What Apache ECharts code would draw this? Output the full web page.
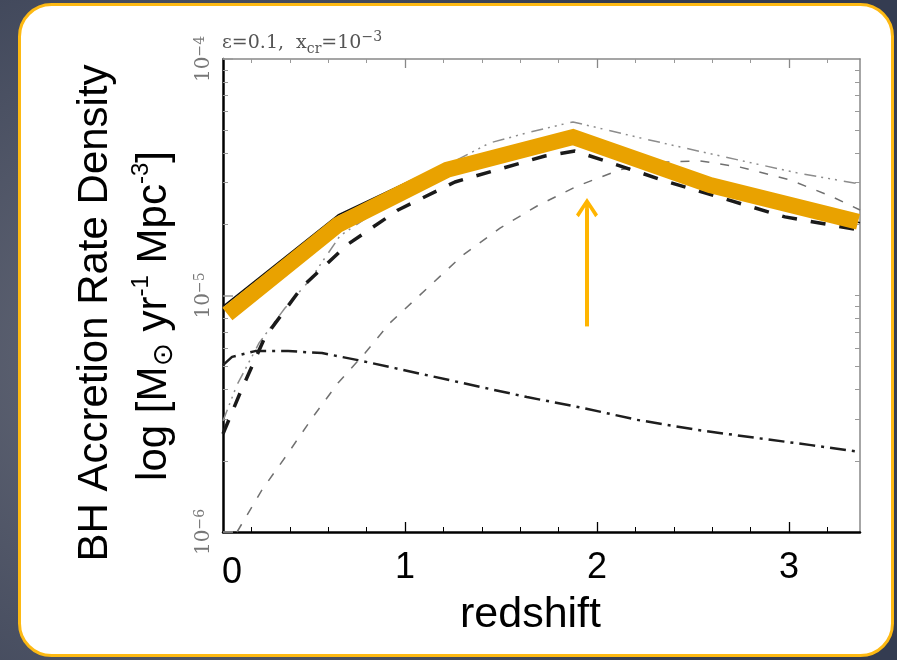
<!DOCTYPE html>
<html><head><meta charset="utf-8">
<script src="https://cdn.jsdelivr.net/npm/echarts@6/dist/echarts.min.js"></script>
<style>html,body{margin:0;padding:0;background:#3b4257;}#c{width:897px;height:660px;}</style>
</head><body><div id="c"></div>
<script>
// ---------------- data (redshift z, accretion rate density in Msun/yr/Mpc^3) ----------------
// highlighted total (thick orange)
const hlZ = [0.075, 0.651, 1.219, 1.875, 2.589, 3.36];
const hlV = [8.36e-6, 1.99e-5, 3.40e-5, 4.68e-5, 2.93e-5, 2.05e-5];
// thin solid black total
const totZ = [0.052, 0.651, 1.219, 1.875, 2.589, 3.37];
const totV = [9.0e-6, 2.19e-5, 3.62e-5, 4.68e-5, 2.93e-5, 2.03e-5];
// thick long-dashed black
const dashZ = [0.052, 0.141, 0.271, 0.464, 0.698, 0.964, 1.26, 1.729, 1.885, 2.042, 2.354, 2.667, 2.979, 3.37];
const dashV = [2.6e-6, 3.87e-6, 6.68e-6, 1.086e-5, 1.637e-5, 2.30e-5, 3.02e-5, 3.89e-5, 4.08e-5, 3.71e-5, 3.05e-5, 2.56e-5, 2.15e-5, 1.89e-5];
// thin grey dash-dot-dot
const ddZ = [0.052, 0.125, 0.240, 0.375, 0.505, 0.661, 0.974, 1.219, 1.443, 1.651, 1.875, 2.25, 2.667, 3.042, 3.37];
const ddV = [2.95e-6, 4.19e-6, 6.30e-6, 8.85e-6, 1.164e-5, 1.786e-5, 2.66e-5, 3.56e-5, 4.42e-5, 4.91e-5, 5.42e-5, 4.59e-5, 3.85e-5, 3.30e-5, 2.96e-5];
// thin grey dashed
const gdZ = [0.125, 0.255, 0.385, 0.516, 0.651, 0.792, 0.922, 1.302, 1.495, 1.688, 1.896, 2.12, 2.328, 2.536, 2.745, 3.005, 3.214, 3.37];
const gdV = [1.0e-6, 1.507e-6, 2.12e-6, 3.03e-6, 4.27e-6, 5.71e-6, 7.66e-6, 1.483e-5, 1.928e-5, 2.39e-5, 2.90e-5, 3.40e-5, 3.66e-5, 3.71e-5, 3.49e-5, 3.08e-5, 2.64e-5, 2.30e-5];
// black dash-dot
const dcZ = [0.052, 0.099, 0.219, 0.391, 0.568, 0.755, 0.948, 1.297, 1.635, 1.932, 2.208, 2.526, 2.844, 3.115, 3.37];
const dcV = [5.08e-6, 5.50e-6, 5.82e-6, 5.82e-6, 5.71e-6, 5.33e-6, 4.93e-6, 4.27e-6, 3.72e-6, 3.34e-6, 2.98e-6, 2.70e-6, 2.49e-6, 2.33e-6, 2.18e-6];
// arrow annotation
const arrowZ = 1.948, arrowFrom = 7.4e-6, arrowTo = 2.32e-5;

// axes
const XMIN = 0.052, XMAX = 3.37;
const xMajorTicks = [1, 2, 3];
const xMinorTicks = [0.2, 0.4, 0.6, 0.8, 1.2, 1.4, 1.6, 1.8, 2.2, 2.4, 2.6, 2.8, 3.2];
const xZeroLabel = '0';
const YMIN = 1e-6, YMAX = 1e-4;
const yMajorTicks = [1e-6, 1e-5, 1e-4];
const yTickText = ['{b|10}{s|−6}', '{b|10}{s|−5}', '{b|10}{s|−4}'];
const yMinorTicks = [2e-6, 3e-6, 4e-6, 5e-6, 6e-6, 7e-6, 8e-6, 9e-6, 2e-5, 3e-5, 4e-5, 5e-5, 6e-5, 7e-5, 8e-5, 9e-5];
const yRightTicks = yMinorTicks.concat([1e-5]);
const yTitle1 = 'BH Accretion Rate Density';
const yTitle2 = '{t|log [M}{o|⊙}{t| yr}{u|-1}{t| Mpc}{u|-3}{t|]}';
const xTitle = 'redshift';
const plotTitle = '{a|ε=0.1,  x}{b|cr}{a|=10}{c|−3}';

// ---------------- chart ----------------
const SANS = '"Liberation Sans", Arial, Helvetica, sans-serif';
const SERIF = '"DejaVu Serif", "Liberation Serif", serif';
const pair = (xs, ys) => xs.map((x, i) => [x, ys[i]]);
const ARROW = 'path://M12,0 L24,18 L21,21 L14,10 L14,24 L10,24 L10,10 L3,21 L0,18 Z';

const chart = echarts.init(document.getElementById('c'), null, {renderer: 'canvas', width: 897, height: 660});

const xBase = {type: 'value', min: XMIN, max: XMAX, splitLine: {show: false}, axisLabel: {show: false},
  axisTick: {show: false}, axisLine: {show: false}};
const yLin = {type: 'value', min: Math.log10(YMIN), max: Math.log10(YMAX), splitLine: {show: false},
  axisLabel: {show: false}, axisLine: {show: false}};

function line(name, xs, ys, style, z, extra) {
  return Object.assign({type: 'line', name, data: pair(xs, ys), xAxisIndex: 0, yAxisIndex: 0,
    symbol: 'none', showSymbol: false, silent: true, z, lineStyle: style}, extra || {});
}

const baseGraphic = [
  {id: 'bg', type: 'rect', z: -100, silent: true, shape: {x: 0, y: 0, width: 897, height: 660},
    style: {fill: {type: 'radial', x: 0.2, y: 0.55, r: 0.85,
      colorStops: [{offset: 0, color: '#676b79'}, {offset: 1, color: '#343c51'}]}}},
  {id: 'card', type: 'rect', z: -90, silent: true, shape: {x: 19.5, y: 4.5, width: 873, height: 651, r: 32},
    style: {fill: '#ffffff', stroke: '#FDB913', lineWidth: 3}},
  {id: 'yt1', type: 'text', z: 10, x: 95, y: 313, rotation: Math.PI / 2, silent: true,
    style: {text: yTitle1, font: '42px ' + SANS, fill: '#000', align: 'center', verticalAlign: 'middle'}},
  {id: 'yt2', type: 'text', z: 10, x: 154, y: 316, rotation: Math.PI / 2, silent: true,
    style: {text: yTitle2, fill: '#000', align: 'center', verticalAlign: 'middle',
      rich: {
        t: {fontSize: 42, fontFamily: SANS, lineHeight: 50, fill: '#000'},
        o: {fontSize: 28, fontFamily: '"DejaVu Sans", sans-serif', lineHeight: 33, verticalAlign: 'bottom', fill: '#000'},
        u: {fontSize: 24, fontFamily: SANS, lineHeight: 12, verticalAlign: 'top', fill: '#000'}
      }}},
  {id: 'x0', type: 'text', z: 10, x: 232, y: 573, silent: true,
    style: {text: xZeroLabel, font: '36px ' + SANS, fill: '#000', align: 'center', verticalAlign: 'middle'}}
];

const option = {
  animation: false,
  graphic: baseGraphic,
  title: {
    text: plotTitle, left: 222, top: 30, padding: 0,
    textStyle: {fontWeight: 'normal', fontSize: 19, fontFamily: SERIF, color: '#555', rich: {
      a: {fontSize: 19, fontFamily: SERIF, fontWeight: 'normal', color: '#555', lineHeight: 26},
      b: {fontSize: 14, fontFamily: SERIF, fontWeight: 'normal', color: '#555', lineHeight: 10, verticalAlign: 'bottom'},
      c: {fontSize: 14, fontFamily: SERIF, fontWeight: 'normal', color: '#555', lineHeight: 12, verticalAlign: 'top'}
    }}
  },
  grid: {left: 223, top: 59, width: 637, height: 473, containLabel: false},
  xAxis: [
    Object.assign({}, xBase, {position: 'bottom',
      axisLine: {show: true, onZero: false, lineStyle: {color: '#000', width: 2.5}},
      axisTick: {show: true, inside: true, length: 10, customValues: xMajorTicks, lineStyle: {color: '#000', width: 1.3}},
      axisLabel: {show: true, customValues: xMajorTicks, fontSize: 36, fontFamily: SANS, color: '#000', margin: 18},
      name: xTitle, nameLocation: 'middle', nameGap: 62,
      nameTextStyle: {fontSize: 43, fontFamily: SANS, color: '#000', padding: [0, 22, 0, 0]}}),
    Object.assign({}, xBase, {position: 'bottom',
      axisTick: {show: true, inside: true, length: 5, customValues: xMinorTicks, lineStyle: {color: '#000', width: 1}}}),
    Object.assign({}, xBase, {position: 'top',
      axisLine: {show: true, onZero: false, lineStyle: {color: '#888', width: 1.5}},
      axisTick: {show: true, inside: true, length: 9, customValues: xMajorTicks, lineStyle: {color: '#888', width: 1.3}}}),
    Object.assign({}, xBase, {position: 'top',
      axisTick: {show: true, inside: true, length: 4, customValues: xMinorTicks, lineStyle: {color: '#999', width: 1}}})
  ],
  yAxis: [
    {type: 'log', logBase: 10, min: YMIN, max: YMAX, position: 'left', splitLine: {show: false},
      axisLine: {show: true, onZero: false, lineStyle: {color: '#000', width: 2.5}},
      axisTick: {show: true, inside: true, length: 10, lineStyle: {color: '#999', width: 1.5}},
      axisLabel: {show: false}},
    Object.assign({}, yLin, {position: 'left',
      axisTick: {show: true, inside: true, length: 5, customValues: yMinorTicks.map(v => Math.log10(v)), lineStyle: {color: '#999', width: 1}}}),
    Object.assign({}, yLin, {position: 'right',
      axisLine: {show: true, onZero: false, lineStyle: {color: '#888', width: 1.5}},
      axisTick: {show: true, inside: true, length: 5, customValues: yRightTicks.map(v => Math.log10(v)), lineStyle: {color: '#999', width: 1}}})
  ],
  series: [
    line('grey dashed', gdZ, gdV, {color: '#707070', width: 1.5, type: [9, 11]}, 2),
    line('dash-dot', dcZ, dcV, {color: '#1e1e1e', width: 2.5, type: [16, 6, 3, 6]}, 3),
    line('dash-dot-dot', ddZ, ddV, {color: '#8c8c8c', width: 1.5, type: [12, 5, 2, 5, 2, 5, 2, 7]}, 4),
    line('long dashed', dashZ, dashV, {color: '#1a1a1a', width: 3.5, type: [15, 14]}, 5),
    line('total', totZ, totV, {color: '#111', width: 1.5}, 6),
    line('highlight', hlZ, hlV, {color: '#E9A200', width: 16, cap: 'butt', join: 'miter'}, 8, {
      clip: false,
      markLine: {silent: true, animation: false, symbol: ['none', ARROW], symbolSize: [22, 22],
        label: {show: false}, emphasis: {disabled: true},
        lineStyle: {color: '#FFB500', width: 4, type: 'solid'},
        data: [[{coord: [arrowZ, arrowFrom]}, {coord: [arrowZ, arrowTo]}]]}
    })
  ]
};
chart.setOption(option);

// rotated y tick labels (10^n), placed through the log axis scale
const axisX = chart.convertToPixel({xAxisIndex: 0}, XMIN);
const yLabelGraphics = yMajorTicks.map((v, i) => ({
  id: 'ylab' + i, type: 'text', z: 10, silent: true,
  x: axisX - 8, y: chart.convertToPixel({yAxisIndex: 0}, v), rotation: Math.PI / 2,
  style: {text: yTickText[i], align: 'center', verticalAlign: 'bottom', fill: '#777',
    rich: {
      b: {fontSize: 20, fontFamily: SERIF, fill: '#777', lineHeight: 22},
      s: {fontSize: 14, fontFamily: SERIF, fill: '#777', lineHeight: 10, verticalAlign: 'top'}
    }}
}));
chart.setOption({graphic: baseGraphic.concat(yLabelGraphics)});
</script></body></html>
